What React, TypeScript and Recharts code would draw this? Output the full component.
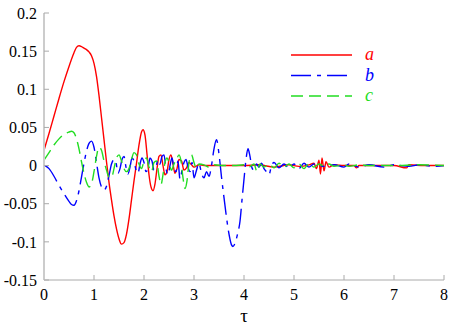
import { LineChart, Line, XAxis, YAxis } from 'recharts';

const aTau = [0, 0.1, 0.2, 0.3, 0.4, 0.5, 0.6, 0.65, 0.7, 0.75, 0.8, 0.85, 0.9, 0.95, 1.0, 1.05, 1.1, 1.15, 1.2, 1.25, 1.3, 1.35, 1.4, 1.45, 1.5, 1.55, 1.6, 1.65, 1.7, 1.75, 1.8, 1.85, 1.9, 1.95, 1.98, 2.02, 2.06, 2.1, 2.14, 2.18, 2.22, 2.26, 2.3, 2.34, 2.38, 2.42, 2.46, 2.5, 2.54, 2.58, 2.62, 2.66, 2.7, 2.75, 2.8, 2.85, 2.9, 2.95, 3.0, 3.1, 3.2, 3.3, 3.5, 3.8, 4.0, 4.3, 4.6, 4.9, 5.1, 5.3, 5.4, 5.45, 5.5, 5.53, 5.56, 5.6, 5.64, 5.7, 5.8, 6.0, 6.2, 6.25, 6.3, 6.6, 7.0, 7.25, 7.3, 7.6, 8.0];
const aVal = [0.02, 0.042, 0.065, 0.088, 0.11, 0.13, 0.148, 0.155, 0.157, 0.156, 0.154, 0.152, 0.149, 0.144, 0.134, 0.117, 0.092, 0.063, 0.034, 0.005, -0.022, -0.045, -0.066, -0.083, -0.096, -0.103, -0.101, -0.09, -0.07, -0.045, -0.02, 0.003, 0.027, 0.044, 0.047, 0.04, 0.015, -0.012, -0.028, -0.033, -0.024, -0.004, 0.012, 0.014, 0.0, -0.012, -0.008, 0.008, 0.014, 0.002, -0.01, -0.004, 0.008, 0.006, -0.006, -0.003, 0.004, 0.001, -0.002, 0.001, 0, 0, 0, 0, 0, 0.001, -0.002, 0.001, -0.001, 0.001, 0.003, -0.004, 0.007, -0.011, 0.01, -0.007, 0.005, -0.002, 0.001, 0, 0, -0.003, 0, 0, 0, -0.003, 0.001, 0, 0];

const bTau = [0.02, 0.1, 0.2, 0.3, 0.4, 0.5, 0.55, 0.6, 0.65, 0.7, 0.75, 0.8, 0.85, 0.9, 0.95, 1.0, 1.05, 1.1, 1.15, 1.2, 1.25, 1.3, 1.35, 1.4, 1.44, 1.48, 1.52, 1.56, 1.6, 1.64, 1.68, 1.72, 1.76, 1.8, 1.84, 1.88, 1.92, 1.96, 2.0, 2.04, 2.08, 2.12, 2.16, 2.2, 2.24, 2.28, 2.32, 2.36, 2.4, 2.44, 2.48, 2.52, 2.56, 2.6, 2.64, 2.68, 2.72, 2.76, 2.8, 2.84, 2.88, 2.92, 2.96, 3.0, 3.05, 3.1, 3.15, 3.2, 3.25, 3.3, 3.35, 3.4, 3.45, 3.5, 3.55, 3.6, 3.65, 3.7, 3.75, 3.78, 3.82, 3.87, 3.92, 3.96, 4.0, 4.04, 4.08, 4.12, 4.16, 4.2, 4.25, 4.3, 4.35, 4.4, 4.45, 4.5, 4.55, 4.6, 4.7, 4.8, 4.9, 5.0, 5.1, 5.2, 5.3, 5.4, 5.6, 5.8, 6.0, 6.1, 6.3, 6.5, 6.8, 7.0, 7.3, 7.5, 7.8, 8.0];
const bVal = [0, -0.004, -0.014, -0.026, -0.037, -0.047, -0.051, -0.052, -0.046, -0.033, -0.015, 0.003, 0.019, 0.029, 0.032, 0.024, 0.004, -0.016, -0.028, -0.032, -0.027, -0.013, 0.002, 0.008, 0.004, -0.01, -0.004, 0.008, 0.012, -0.002, -0.011, -0.002, 0.01, 0.006, -0.006, -0.01, 0.002, 0.01, 0.004, -0.008, -0.004, 0.01, 0.006, -0.006, -0.002, 0.008, 0.002, 0.012, 0.014, -0.004, -0.012, 0.0, 0.01, -0.003, -0.008, 0.006, -0.018, -0.006, 0.004, 0.008, -0.002, -0.008, 0.004, -0.016, -0.006, 0.003, -0.01, -0.016, -0.008, -0.014, 0.0, 0.022, 0.034, 0.015, -0.015, -0.042, -0.068, -0.09, -0.104, -0.106, -0.102, -0.09, -0.073, -0.045, -0.018, 0.008, 0.022, 0.012, -0.003, -0.006, 0.002, -0.002, 0.003, -0.004, -0.008, -0.012, 0.0, 0.004, -0.003, 0.002, -0.003, 0.002, -0.004, 0.003, -0.002, 0.002, -0.001, 0.001, -0.002, 0.002, -0.002, 0.001, -0.002, 0.001, -0.001, 0.001, -0.001, 0];

const cTau = [0, 0.1, 0.2, 0.3, 0.4, 0.5, 0.55, 0.6, 0.65, 0.7, 0.75, 0.8, 0.85, 0.9, 0.95, 1.0, 1.05, 1.1, 1.15, 1.2, 1.25, 1.3, 1.35, 1.4, 1.45, 1.5, 1.55, 1.6, 1.65, 1.7, 1.75, 1.8, 1.85, 1.9, 1.95, 2.0, 2.05, 2.1, 2.15, 2.2, 2.25, 2.3, 2.34, 2.38, 2.42, 2.46, 2.5, 2.55, 2.6, 2.65, 2.7, 2.74, 2.78, 2.82, 2.86, 2.9, 2.95, 3.0, 3.05, 3.1, 3.2, 3.3, 3.4, 3.6, 3.8, 4.0, 4.1, 4.2, 4.26, 4.32, 4.4, 4.5, 4.6, 4.7, 4.8, 4.9, 5.0, 5.1, 5.2, 5.3, 5.4, 5.5, 5.6, 5.7, 5.8, 6.0, 6.1, 6.3, 6.5, 7.0, 7.5, 8.0];
const cVal = [0.007, 0.017, 0.027, 0.035, 0.041, 0.044, 0.045, 0.043, 0.035, 0.022, 0.005, -0.01, -0.022, -0.028, -0.024, -0.008, 0.012, 0.024, 0.02, 0.006, -0.006, -0.015, -0.016, -0.004, 0.01, 0.014, 0.006, -0.004, -0.008, -0.004, 0.008, 0.017, 0.014, 0.002, -0.004, 0.006, 0.01, -0.002, -0.008, 0.004, 0.006, -0.014, -0.025, -0.012, 0.004, 0.01, 0.004, -0.006, 0.002, 0.008, 0.014, 0.006, -0.016, -0.03, -0.02, 0.004, 0.014, 0.004, -0.004, 0.002, 0.001, -0.002, 0.001, 0, 0, 0.001, -0.002, 0.002, -0.008, 0.002, -0.002, 0.002, -0.003, 0.003, -0.002, 0.002, -0.003, 0.002, -0.004, 0.003, -0.002, 0.002, -0.001, 0.002, -0.001, 0.001, -0.001, 0.001, 0, 0, 0.001, 0];

const xTicks = [0, 1, 2, 3, 4, 5, 6, 7, 8];
const yTicks = [-0.15, -0.1, -0.05, 0, 0.05, 0.1, 0.15, 0.2];

const seriesNames = ['a', 'b', 'c'];
const seriesColors = ['#ff0000', '#0000ff', '#22dd22'];
const seriesDash = [undefined, '20 6 4 6', '12 6'];

const zip = (t: number[], v: number[]) => t.map((tau, i) => ({ tau, v: v[i] }));
const seriesData = [zip(aTau, aVal), zip(bTau, bVal), zip(cTau, cVal)];

const FONT = "'Liberation Serif', serif";

// tick labels drawn by hand so the serif font sticks
const XTick = (p: any) => (
  <text x={p.x} y={p.y} dy="0.71em" textAnchor="middle" fill="#000" fontFamily={FONT} fontSize={16}>
    {p.payload.value}
  </text>
);
const YTick = (p: any) => (
  <text x={p.x} y={p.y} dy="0.36em" textAnchor="end" fill="#000" fontFamily={FONT} fontSize={16}>
    {String(p.payload.value)}
  </text>
);

export default function App() {
  return (
    <div style={{ position: 'absolute', left: 0, top: 0, width: 449, height: 327, background: '#fff' }}>
      <LineChart width={449} height={327} margin={{ top: 13, right: 5, bottom: 0, left: 0 }}>
        <XAxis
          dataKey="tau"
          type="number"
          domain={[0, 8]}
          ticks={xTicks}
          height={47}
          tickSize={-5}
          tickMargin={14}
          tick={XTick}
          stroke="#aaa"
          tickLine={{ stroke: '#aaa' }}
          axisLine={{ stroke: '#aaa' }}
          label={{ value: 'τ', position: 'insideBottom', offset: 5, fontFamily: FONT, fontSize: 19, fill: '#000' }}
        />
        <XAxis
          xAxisId="top"
          orientation="top"
          type="number"
          domain={[0, 8]}
          ticks={xTicks}
          height={0}
          tickSize={-5}
          tick={() => <g />}
          stroke="#aaa"
          allowDataOverflow
        />
        <YAxis
          type="number"
          domain={[-0.15, 0.2]}
          ticks={yTicks}
          width={44}
          tickSize={-5}
          tickMargin={12}
          tick={YTick}
          axisLine={{ stroke: '#ccc', strokeWidth: 2 }}
          tickLine={{ stroke: '#aaa' }}
        />
        <YAxis
          yAxisId="right"
          orientation="right"
          type="number"
          domain={[-0.15, 0.2]}
          ticks={yTicks}
          width={0}
          tickSize={-5}
          tick={() => <g />}
          axisLine={{ stroke: '#ccc', strokeWidth: 2 }}
          tickLine={{ stroke: '#aaa' }}
          allowDataOverflow
        />
        {seriesData.map((d, i) => (
          <Line
            key={seriesNames[i]}
            data={d}
            dataKey="v"
            type="monotone"
            stroke={seriesColors[i]}
            strokeWidth={1.4}
            strokeDasharray={seriesDash[i]}
            dot={false}
            activeDot={false}
            isAnimationActive={false}
          />
        ))}
      </LineChart>
      <svg width={100} height={60} style={{ position: 'absolute', left: 289, top: 44 }}>
        {seriesNames.map((n, i) => (
          <g key={n}>
            <line x1={2} x2={63} y1={11 + i * 20.5} y2={11 + i * 20.5} stroke={seriesColors[i]} strokeWidth={1.4} strokeDasharray={seriesDash[i]} />
            <text x={76} y={11 + i * 20.5} dy="0.3em" fill={seriesColors[i]} fontFamily={FONT} fontStyle="italic" fontSize={18}>
              {n}
            </text>
          </g>
        ))}
      </svg>
    </div>
  );
}
